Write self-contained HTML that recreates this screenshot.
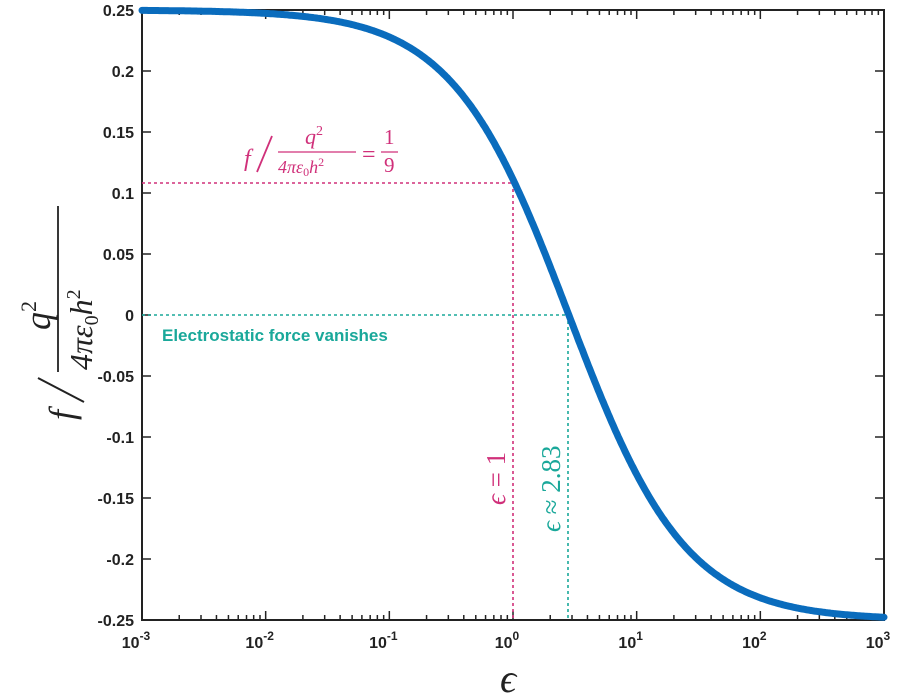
<!DOCTYPE html>
<html><head><meta charset="utf-8"><style>
body{margin:0;background:#fff;width:900px;height:700px;overflow:hidden}
svg{display:block}
.t{font-family:"Liberation Sans",sans-serif;font-weight:bold;font-size:16px;fill:#222}
.m{font-family:"Liberation Serif",serif;font-style:italic}
</style></head><body>
<svg id="s" width="900" height="700" xmlns="http://www.w3.org/2000/svg">
<rect x="142" y="10" width="742" height="610" fill="none" stroke="#222" stroke-width="2"/>
<g id="ticks" stroke="#222" stroke-width="1.5"></g>
<g id="labels"></g>
<line x1="142" y1="183" x2="513" y2="183" stroke="#d0307a" stroke-width="1.6" stroke-dasharray="3,3"/>
<line x1="513" y1="183" x2="513" y2="620" stroke="#d0307a" stroke-width="1.6" stroke-dasharray="3,3"/>
<line x1="142" y1="315" x2="568" y2="315" stroke="#1aa89a" stroke-width="1.6" stroke-dasharray="3,3"/>
<line x1="568" y1="315" x2="568" y2="620" stroke="#1aa89a" stroke-width="1.6" stroke-dasharray="3,3"/>
<path id="curve" fill="none" stroke="#0a6cbd" stroke-width="7" stroke-linecap="round"/>
<text x="162" y="341" font-family="Liberation Sans,sans-serif" font-weight="bold" font-size="17" fill="#1aa89a">Electrostatic force vanishes</text>
<g class="m" fill="#d0307a" font-size="24">
<text x="244" y="166">f</text>
<line x1="257" y1="172" x2="272" y2="136" stroke="#d0307a" stroke-width="1.8"/>
<text x="305" y="144" font-size="22">q<tspan dy="-9" font-size="14" font-style="normal">2</tspan></text>
<line x1="278" y1="152" x2="356" y2="152" stroke="#d0307a" stroke-width="1.3"/>
<text x="278" y="173" font-size="18">4πε<tspan font-size="12" dy="3" font-style="normal">0</tspan><tspan dy="-3">h</tspan><tspan dy="-7" font-size="12" font-style="normal">2</tspan></text>
<text x="362" y="162" font-style="normal">=</text>
<text x="384" y="144" font-style="normal" font-size="21">1</text>
<line x1="381" y1="152" x2="398" y2="152" stroke="#d0307a" stroke-width="1.3"/>
<text x="384" y="172" font-style="normal" font-size="21">9</text>
</g>
<text class="m" transform="translate(505,505) rotate(-90)" font-size="27" fill="#d0307a">ϵ <tspan font-style="normal">= 1</tspan></text>
<text class="m" transform="translate(560,532) rotate(-90)" font-size="27" fill="#1aa89a">ϵ <tspan font-style="normal">≈ 2.83</tspan></text>
<text class="m" x="500" y="692" font-size="40" fill="#222">ϵ</text>
<g transform="translate(62,312) rotate(-90)" class="m" fill="#222">
<text x="-108" y="12" font-size="36">f</text>
<line x1="-90" y1="22" x2="-66" y2="-24" stroke="#222" stroke-width="2"/>
<text x="-18" y="-12" font-size="36">q<tspan dy="-14" font-size="22" font-style="normal">2</tspan></text>
<line x1="-60" y1="-4" x2="106" y2="-4" stroke="#222" stroke-width="1.8"/>
<text x="-58" y="30" font-size="32">4πε<tspan font-size="20" dy="6" font-style="normal">0</tspan><tspan dy="-6">h</tspan><tspan dy="-12" font-size="20" font-style="normal">2</tspan></text>
</g>
</svg>
<script>
var L=142,R=884,T=10,B=620,dw=(R-L)/6;
function X(e){return L+(Math.log10(e)+3)*dw}
function Y(v){return 315-v*1220}
var tk=document.getElementById('ticks'),lb=document.getElementById('labels'),h='',g='';
for(var d=-3;d<=3;d++){
 for(var k=1;k<10;k++){ if(d==3&&k>1)break;
  var x=X(k*Math.pow(10,d)),len=k==1?9:5;
  h+='<line x1="'+x+'" y1="'+B+'" x2="'+x+'" y2="'+(B-len)+'"/><line x1="'+x+'" y1="'+T+'" x2="'+x+'" y2="'+(T+len)+'"/>';
 }
 var x0=X(Math.pow(10,d));
 g+='<text class="t" x="'+(x0-6)+'" y="648" text-anchor="middle">10<tspan dy="-8" font-size="12">'+d+'</tspan></text>';
}
var ys=[0.25,0.2,0.15,0.1,0.05,0,-0.05,-0.1,-0.15,-0.2,-0.25];
ys.forEach(function(v){var y=Y(v);
 h+='<line x1="'+L+'" y1="'+y+'" x2="'+(L+9)+'" y2="'+y+'"/><line x1="'+R+'" y1="'+y+'" x2="'+(R-9)+'" y2="'+y+'"/>';
 g+='<text class="t" x="134" y="'+(y+6)+'" text-anchor="end">'+v+'</text>';});
tk.innerHTML=h;lb.innerHTML=g;
var c=2.6,p=0.919,dstr='';
for(var i=0;i<=600;i++){var e=Math.pow(10,-3+6*i/600),ep=Math.pow(e,p),f=0.25*(c-ep)/(c+ep);
 dstr+=(i?'L':'M')+X(e).toFixed(1)+','+Y(f).toFixed(1);}
document.getElementById('curve').setAttribute('d',dstr);
</script>
</body></html>
